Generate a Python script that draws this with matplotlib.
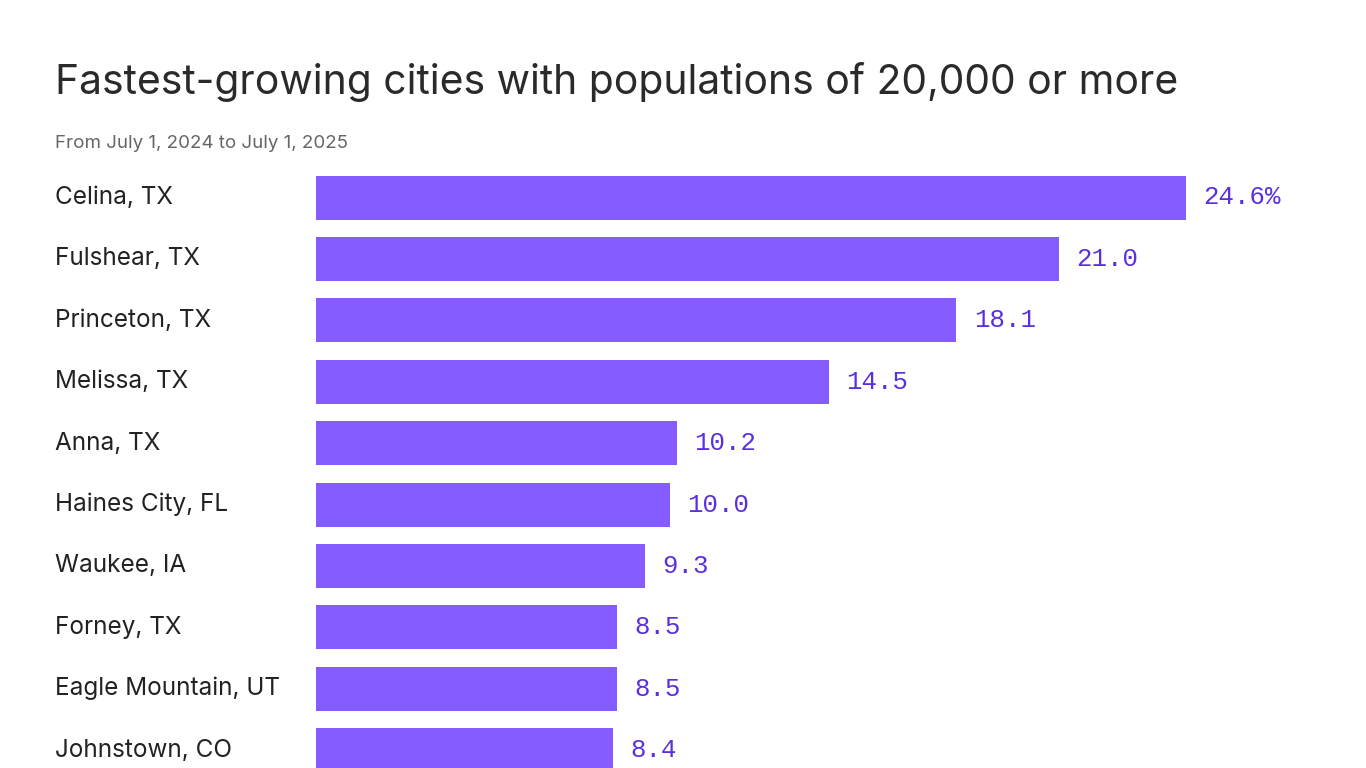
import matplotlib
matplotlib.use("Agg")
import matplotlib.pyplot as plt

cities = ["Celina, TX", "Fulshear, TX", "Princeton, TX", "Melissa, TX", "Anna, TX",
          "Haines City, FL", "Waukee, IA", "Forney, TX", "Eagle Mountain, UT", "Johnstown, CO"]
growth = [24.6, 21.0, 18.1, 14.5, 10.2, 10.0, 9.3, 8.5, 8.5, 8.4]

W, H = 1366, 768
fig = plt.figure(figsize=(W / 100, H / 100), dpi=100)
fig.patch.set_facecolor("white")

# axes spans from bar baseline to right edge, full height in pixel units on y
ax = fig.add_axes([316 / W, 0, 1 - 316 / W, 1])
ax.set_xlim(0, (W - 316) / (870 / 24.6))
ax.set_ylim(H, 0)
ax.axis("off")

y0, step, bh = 197.5, 61.4, 44
ys = [y0 + step * i for i in range(len(cities))]
ax.barh(ys, growth, height=bh, color="#855CFF")
for i, (y, v, c) in enumerate(zip(ys, growth, cities)):
    lab = f"{v:.1f}%" if i == 0 else f"{v:.1f}"
    ax.text(v + 0.5, y, lab, va="center", ha="left", fontsize=18.5,
            family="Liberation Mono", color="#5A2FE0")
    fig.text(55 / W, 1 - y / H, c, va="center", ha="left", fontsize=17.5,
             family="Inter", color="#222222")

fig.text(55 / W, 1 - 82 / H, "Fastest-growing cities with populations of 20,000 or more",
         fontsize=29.4, family="Inter", color="#2a2a2a", va="center")
fig.text(55 / W, 1 - 144 / H, "From July 1, 2024 to July 1, 2025",
         fontsize=13.5, family="Inter", color="#666666", va="center")

fig.savefig("out.png", dpi=100)
